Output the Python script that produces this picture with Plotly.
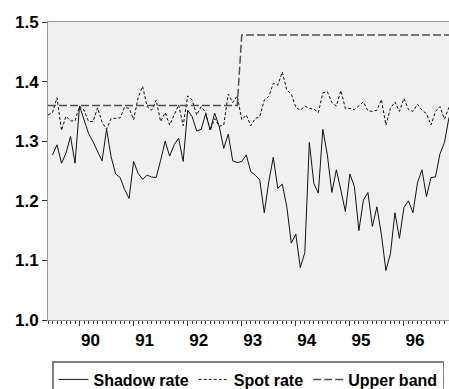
import plotly.graph_objects as go

# monthly observations, index 0 = Jun 1989
months = list(range(90))

spot_rate = [1.344, 1.348, 1.373, 1.318, 1.342, 1.334, 1.334, 1.359, 1.352, 1.333,
             1.333, 1.356, 1.332, 1.320, 1.338, 1.338, 1.339, 1.357, 1.355, 1.336,
             1.373, 1.392, 1.358, 1.352, 1.369, 1.333, 1.348, 1.327, 1.344, 1.361,
             1.326, 1.376, 1.369, 1.344, 1.358, 1.348, 1.318, 1.338, 1.325, 1.327,
             1.379, 1.365, 1.376, 1.336, 1.344, 1.326, 1.338, 1.341, 1.369, 1.375,
             1.397, 1.394, 1.416, 1.386, 1.379, 1.357, 1.352, 1.359, 1.355, 1.354,
             1.348, 1.381, 1.383, 1.365, 1.359, 1.385, 1.355, 1.355, 1.353, 1.359,
             1.366, 1.351, 1.350, 1.352, 1.370, 1.327, 1.355, 1.366, 1.350, 1.372,
             1.353, 1.350, 1.362, 1.352, 1.346, 1.327, 1.350, 1.358, 1.337, 1.357]

shadow_rate = [None, 1.277, 1.294, 1.263, 1.280, 1.308, 1.263, 1.359, 1.335, 1.313,
               1.299, 1.284, 1.267, 1.320, 1.274, 1.245, 1.239, 1.219, 1.204, 1.266,
               1.246, 1.236, 1.243, 1.240, 1.239, 1.268, 1.300, 1.275, 1.294, 1.305,
               1.266, 1.352, 1.341, 1.317, 1.320, 1.346, 1.319, 1.347, 1.325, 1.288,
               1.312, 1.267, 1.264, 1.266, 1.277, 1.249, 1.243, 1.235, 1.180, 1.232,
               1.273, 1.221, 1.228, 1.190, 1.129, 1.144, 1.088, 1.113, 1.298, 1.229,
               1.213, 1.320, 1.277, 1.214, 1.252, 1.218, 1.182, 1.245, 1.224, 1.150,
               1.201, 1.214, 1.157, 1.190, 1.143, 1.083, 1.111, 1.180, 1.137, 1.189,
               1.200, 1.180, 1.230, 1.252, 1.207, 1.239, 1.240, 1.279, 1.298, 1.340]

upper_band = [1.36] * 43 + [1.478] * 47

year_ticks = [7, 19, 31, 43, 55, 67, 79]
year_labels = ["90", "91", "92", "93", "94", "95", "96"]
y_ticks = [1.0, 1.1, 1.2, 1.3, 1.4, 1.5]

FONT = "Liberation Sans, Arial, sans-serif"
TICKFONT = dict(family=FONT, size=17, color="black", weight="bold")

fig = go.Figure()
fig.add_trace(go.Scatter(x=months, y=shadow_rate, mode="lines", name="Shadow rate",
                         line=dict(color="#111111", width=1)))
fig.add_trace(go.Scatter(x=months, y=spot_rate, mode="lines", name="Spot rate",
                         line=dict(color="#111111", width=1, dash="3px,2px")))
fig.add_trace(go.Scatter(x=months, y=upper_band, mode="lines", name="Upper band",
                         line=dict(color="#505050", width=1.5, dash="8px,3px")))

fig.update_layout(
    width=449, height=389,
    margin=dict(l=48, r=0, t=22, b=69),
    paper_bgcolor="white",
    plot_bgcolor="#F0F0F0",
    font=dict(family=FONT, size=16, color="black", weight="bold"),
    showlegend=True,
    legend=dict(orientation="h", xref="container", yref="container",
                x=52 / 449, xanchor="left", y=1 - 361 / 389, yanchor="top",
                bordercolor="#808080", borderwidth=1.5, bgcolor="white",
                font=dict(family=FONT, size=16, color="black", weight="bold"),
                itemwidth=30, tracegroupgap=0),
    xaxis=dict(range=[0, 89], tickmode="array", tickvals=year_ticks, ticktext=year_labels,
               ticks="outside", ticklen=5, tickwidth=1, tickcolor="#333333",
               ticklabelshift=11,
               showgrid=False, zeroline=False, showline=True, linecolor="#999999",
               linewidth=1, mirror=True,
               minor=dict(tickvals=months, ticks="outside", ticklen=3, tickwidth=1,
                          tickcolor="#333333", showgrid=False),
               tickfont=TICKFONT),
    yaxis=dict(range=[1.0, 1.5], tickmode="array", tickvals=y_ticks,
               ticktext=[f"{v:.1f}" for v in y_ticks],
               ticks="outside", ticklen=5, tickwidth=1, tickcolor="#333333",
               showgrid=False, zeroline=False, showline=True, linecolor="#999999",
               linewidth=1, tickfont=TICKFONT),
)

fig.write_html("out.html")
